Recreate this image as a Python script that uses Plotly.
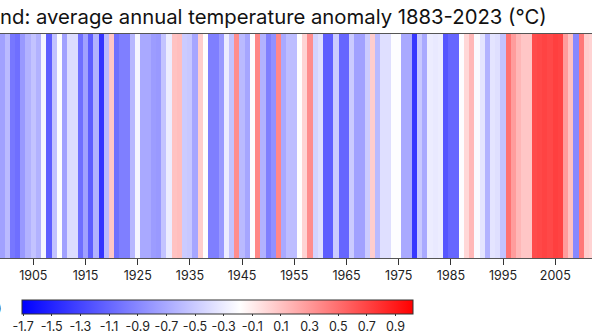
import plotly.graph_objects as go

years = list(range(1899, 2013))
anomaly = [
    -0.75, -0.60, -1.00, -1.05, -0.80, -0.65, -0.55, -0.65, -0.25, -1.15,  # 1899-1908
    -0.55, -0.20, -0.75, -0.40, -0.40, -1.05, -0.75, -1.15, -0.65, -1.40,  # 1909-1918
    -0.60, 0.08, -1.05, -0.95, -0.95, -0.62, -0.25, -0.70, -0.70, -0.78,   # 1919-1928
    -0.80, -0.55, -0.30, 0.10, 0.12, -0.50, -0.52, -0.72, 0.05, -0.18,     # 1929-1938
    -0.95, -0.95, -0.80, -0.30, -0.55, 0.35, -0.60, -0.72, -0.20, 0.38,    # 1939-1948
    -0.65, -0.95, -0.85, 0.38, -0.70, -0.58, -0.58, -0.18, 0.02, 0.35,     # 1949-1958
    -0.45, -0.38, -1.15, -1.15, -0.50, -1.10, -1.10, -0.50, -0.75, -0.75,  # 1959-1968
    -0.50, 0.05, -0.60, -0.38, -0.38, -0.20, -0.20, -0.70, -0.70, -1.38,   # 1969-1978
    -0.52, -0.70, -0.30, -0.32, -0.30, -1.20, -1.10, -1.10, -0.20, 0.00,   # 1979-1988
    0.15, -0.22, -0.35, -0.65, -0.35, -0.38, -0.55, 0.48, 0.28, 0.15,      # 1989-1998
    0.08, 0.08, 0.66, 0.68, 0.70, 0.68, 0.72, 0.70, 0.28, 0.10,            # 1999-2008
    -0.90, 0.45, 0.05, 0.02,                                               # 2009-2012
]

x_ticks = list(range(1895, 2025, 10))
cb_ticks = [-1.7, -1.5, -1.3, -1.1, -0.9, -0.7, -0.5, -0.3, -0.1, 0.1, 0.3, 0.5, 0.7, 0.9]
cb_labels = ["-1.7", "-1.5", "-1.3", "-1.1", "-0.9", "-0.7", "-0.5", "-0.3", "-0.1",
             "0.1", "0.3", "0.5", "0.7", "0.9"]
z_min, z_max = -1.71, 1.02

title_text = "nd: average annual temperature anomaly 1883-2023 (°C)"
cb_title = "(°C)"

W, H = 592, 333
PH = 224  # plot height in px
FONT = "Inter, Liberation Sans, Arial, sans-serif"

fig = go.Figure(go.Heatmap(
    x=years,
    y=[0],
    z=[anomaly],
    zmin=z_min, zmax=z_max,
    colorscale=[[0.0, "rgb(0,0,255)"], [0.557, "rgb(255,255,255)"], [1.0, "rgb(255,0,0)"]],
    colorbar=dict(
        orientation="h",
        x=21.7 / W, xanchor="left",
        y=-42 / PH, yanchor="top",
        len=391 / W, lenmode="fraction",
        thickness=14,
        xpad=0, ypad=0,
        outlinewidth=1, outlinecolor="#333",
        tickvals=cb_ticks, ticktext=cb_labels,
        ticks="outside", ticklen=2, tickcolor="#333",
        tickfont=dict(size=12.5, color="#222", family=FONT),
    ),
    hoverinfo="skip",
))

fig.update_layout(
    width=W, height=H,
    margin=dict(l=0, r=0, t=34, b=75, autoexpand=False),
    paper_bgcolor="white", plot_bgcolor="white",
    font=dict(family=FONT, color="#222"),
    xaxis=dict(
        range=[1898.62, 2012.03],
        tickvals=x_ticks, ticktext=[str(t) for t in x_ticks],
        ticks="outside", ticklen=6, tickcolor="#333",
        showline=True, mirror=True, linecolor="#555", linewidth=1,
        showgrid=False, zeroline=False,
        tickfont=dict(size=12.5, color="#222", family=FONT),
    ),
    yaxis=dict(range=[-0.5, 0.5], showticklabels=False, showgrid=False,
               zeroline=False, ticks="", showline=False),
    annotations=[
        dict(text=title_text, xref="paper", yref="paper",
             x=-2 / W, xanchor="left", y=1 + 18 / PH, yanchor="middle",
             showarrow=False, font=dict(size=20.3, color="#111", family=FONT)),
        dict(text=cb_title, xref="paper", yref="paper",
             x=4 / W, xanchor="right", y=-50 / PH, yanchor="middle",
             showarrow=False, font=dict(size=12.5, color="#222", family=FONT)),
    ],
)

fig.write_html("out.html")
